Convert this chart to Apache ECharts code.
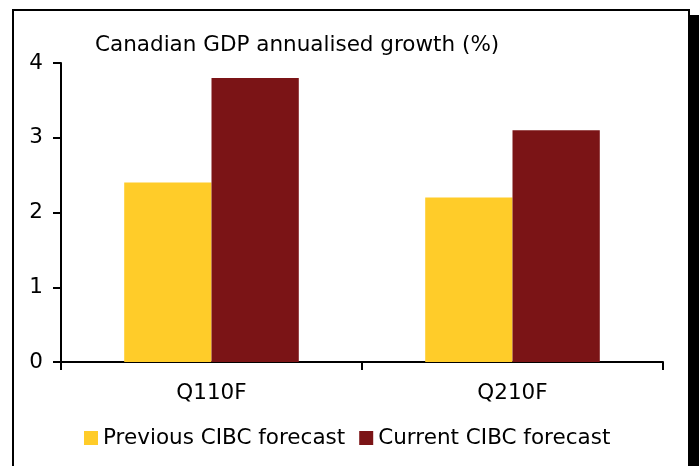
<!DOCTYPE html>
<html>
<head>
<meta charset="utf-8">
<script src="https://cdn.jsdelivr.net/npm/echarts@6/dist/echarts.min.js"></script>
<style>
  html, body { margin: 0; padding: 0; background: #ffffff; }
  #chart { width: 699px; height: 466px; }
</style>
</head>
<body>
<div id="chart"></div>
<script>
// Quarters shown on the category axis
const quarters = ['Q110F', 'Q210F'];
// Annualised GDP growth forecasts (%)
const previousForecast = [2.4, 2.2];
const currentForecast = [3.8, 3.1];
// Value axis range and step
const yMin = 0;
const yMax = 4;
const yStep = 1;

const FONT = 'DejaVu Sans';
const FS = 21.5;
const chart = echarts.init(document.getElementById('chart'), null, { renderer: 'canvas' });

chart.setOption({
  animation: false,
  backgroundColor: '#ffffff',
  textStyle: { fontFamily: FONT },
  title: {
    text: 'Canadian GDP annualised growth (%)',
    left: 90,
    top: 29,
    textStyle: { fontFamily: FONT, fontSize: FS, fontWeight: 'normal', color: '#000' }
  },
  legend: {
    left: 79,
    top: 422,
    itemWidth: 14,
    itemHeight: 14,
    itemGap: 14,
    icon: 'rect',
    textStyle: { fontFamily: FONT, fontSize: FS, color: '#000' },
    data: ['Previous CIBC forecast', 'Current CIBC forecast']
  },
  grid: { left: 61, right: 36, top: 63, bottom: 104, containLabel: false },
  xAxis: {
    type: 'category',
    data: quarters,
    axisLine: { lineStyle: { color: '#000', width: 2 } },
    axisTick: { show: true, length: 8, lineStyle: { color: '#000', width: 2 } },
    axisLabel: { fontFamily: FONT, fontSize: FS, color: '#000', margin: 20 },
    splitLine: { show: false }
  },
  yAxis: {
    type: 'value',
    min: yMin,
    max: yMax,
    interval: yStep,
    axisLine: { show: true, lineStyle: { color: '#000', width: 2 } },
    axisTick: { show: true, length: 8, lineStyle: { color: '#000', width: 2 } },
    axisLabel: { fontFamily: FONT, fontSize: FS, color: '#000', margin: 18 },
    splitLine: { show: false }
  },
  series: [
    {
      name: 'Previous CIBC forecast',
      type: 'bar',
      data: previousForecast,
      barGap: '0%',
      barCategoryGap: '42%',
      itemStyle: { color: '#FFCC29' }
    },
    {
      name: 'Current CIBC forecast',
      type: 'bar',
      data: currentForecast,
      itemStyle: { color: '#7B1416' }
    }
  ],
  graphic: [
    {
      type: 'rect',
      shape: { x: 13, y: 10, width: 676, height: 500 },
      style: { fill: 'none', stroke: '#000', lineWidth: 2 },
      silent: true
    },
    {
      type: 'rect',
      shape: { x: 690, y: 15, width: 9, height: 460 },
      style: { fill: '#000' },
      silent: true
    }
  ]
});
</script>
</body>
</html>
